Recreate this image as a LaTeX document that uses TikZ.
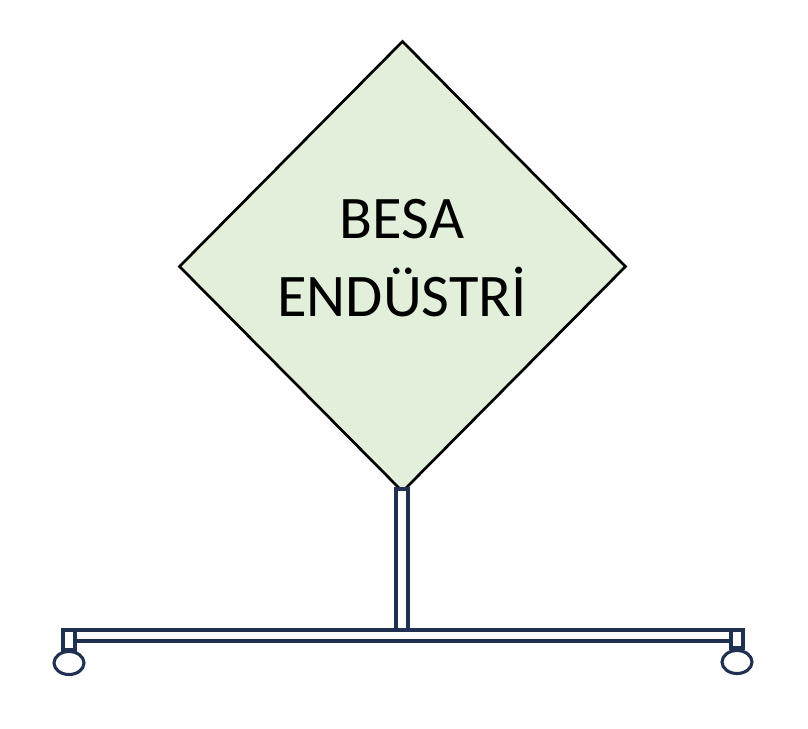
\documentclass[tikz,border=0pt]{standalone}
\usepackage{fontspec}
\setmainfont{Carlito}
\usetikzlibrary{shapes.geometric,positioning}
\definecolor{signgreen}{HTML}{E2EFDA}
\definecolor{standblue}{HTML}{1F3050}
\tikzset{
	sign/.style={
		diamond,
		draw=black,
		line width=1.9pt,
		fill=signgreen,
		minimum width=11.175cm,
		minimum height=11.275cm,
		inner sep=0pt
	},
	signtext/.style={
		align=center,
		inner sep=0pt,
		font=\fontsize{43}{55}\selectfont
	},
	tube/.style={
		draw=standblue,
		line width=2.2pt,
		fill=white
	},
	wheel/.style={
		draw=standblue,
		line width=2.2pt,
		fill=white
	}
}

\begin{document}
\begin{tikzpicture}[x=0.025cm,y=-0.025cm]
	\useasboundingbox (0,0) rectangle (808,729);
	\node [sign] (sign) at (402.5,266.5) {};
	\node [signtext] (title) at (402,258) {BESA\\ENDÜSTRİ};
	% stand
	\draw [tube] (63,630) rectangle (743,641);
	\draw [tube] (396,489) rectangle (408,630);
	\draw [tube] (63,630) rectangle (75,650);
	\draw [tube] (731,630) rectangle (743,648);
	\draw [wheel] (69,663) ellipse [x radius=15, y radius=11.5];
	\draw [wheel] (737,662) ellipse [x radius=15, y radius=11.5];
\end{tikzpicture}
\end{document}
